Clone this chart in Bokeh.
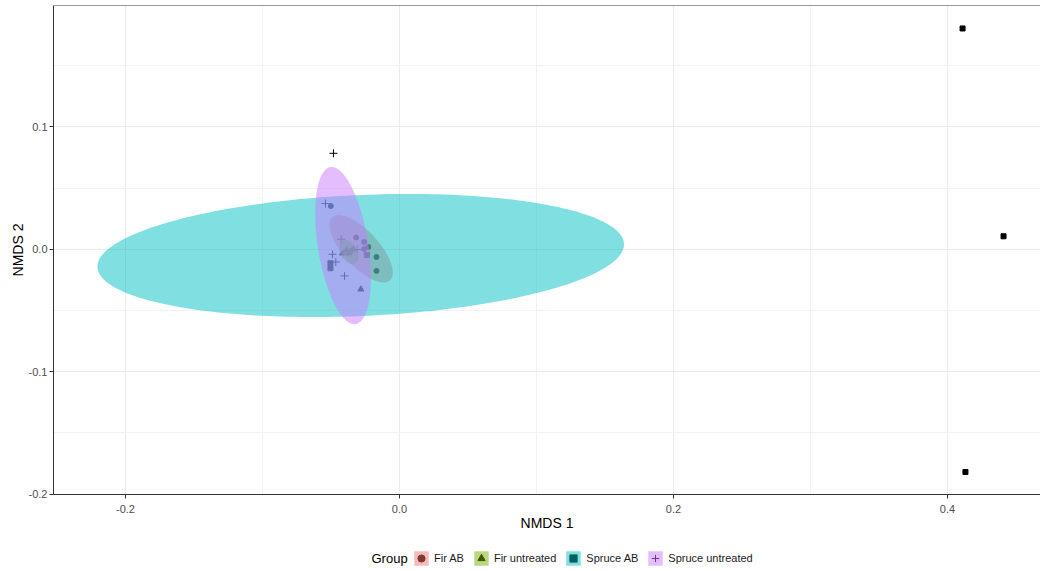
import numpy as np
from bokeh.plotting import figure
from bokeh.layouts import column
from bokeh.models import (Range1d, FixedTicker, NumeralTickFormatter, Legend,
                          LegendItem, Span, Label)
from bokeh.embed import file_html
from bokeh.resources import INLINE

# ---------------- data ----------------
groups = ["Fir AB", "Fir untreated", "Spruce AB", "Spruce untreated"]
legend_title = "Group"
colors = ["#F8766D", "#7CAE00", "#00BFC4", "#C77CFF"]
markers = ["circle", "triangle", "square", "cross"]
marker_sizes = [5, 6, 5, 8]

fir_ab_x = [-0.0501, -0.0316, -0.0258, -0.0228, -0.0258, -0.0168, -0.0168]
fir_ab_y = [0.0353, 0.0096, 0.0060, 0.0019, 0.0002, -0.0063, -0.0177]

fir_untr_x = [-0.0282, -0.0416, -0.0387, -0.0358, -0.0336, -0.0372]
fir_untr_y = [-0.0327, -0.0033, -0.0008, -0.0016, 0.0000, -0.0033]

spruce_ab_x = [0.4110, 0.4409, 0.4131, -0.0239, -0.0504, -0.0504]
spruce_ab_y = [0.1804, 0.0106, -0.1820, -0.0047, -0.0114, -0.0155]

spruce_untr_x = [-0.0482, -0.0540, -0.0426, -0.0489, -0.0465, -0.0401, -0.0309]
spruce_untr_y = [0.0784, 0.0373, 0.0082, -0.0041, -0.0104, -0.0218, -0.0002]

# 95% ellipses (centre, semi-axes, orientation in degrees) per group
ell_cx = [-0.0280, -0.0369, -0.0283, -0.0412]
ell_cy = [0.0004, -0.0024, -0.0051, 0.0030]
ell_a = [0.0333, 0.0105, 0.1924, 0.0648]
ell_b = [0.0135, 0.0062, 0.0494, 0.0184]
ell_angle = [128.0, 115.0, 2.9, 98.0]

x_ticks = [-0.2, 0.0, 0.2, 0.4]
x_minor = [-0.1, 0.1, 0.3]
y_ticks = [-0.2, -0.1, 0.0, 0.1]
y_minor = [-0.15, -0.05, 0.05, 0.15]

pts_x = [fir_ab_x, fir_untr_x, spruce_ab_x, spruce_untr_x]
pts_y = [fir_ab_y, fir_untr_y, spruce_ab_y, spruce_untr_y]

FONT = "Liberation Sans"
Y_TOP = 0.19918

# ---------------- main figure ----------------
p = figure(width=1040, height=540,
           x_range=Range1d(-0.25255, 0.46788),
           y_range=Range1d(-0.2004, Y_TOP),
           output_backend="svg", toolbar_location=None,
           min_border_left=53, min_border_right=0,
           min_border_top=5, min_border_bottom=46)
p.outline_line_color = None
p.background_fill_color = "white"
p.border_fill_color = "white"

p.xaxis.ticker = FixedTicker(ticks=x_ticks, minor_ticks=x_minor)
p.yaxis.ticker = FixedTicker(ticks=y_ticks, minor_ticks=y_minor)
for ax in (p.xaxis[0], p.yaxis[0]):
    ax.formatter = NumeralTickFormatter(format="0.0")
    ax.axis_line_color = "#333333"
    ax.axis_line_width = 1
    ax.major_tick_in = 0
    ax.major_tick_out = 4
    ax.major_tick_line_color = "#333333"
    ax.minor_tick_line_color = None
    ax.major_label_text_font = FONT
    ax.major_label_text_font_size = "11px"
    ax.major_label_text_color = "#4D4D4D"
    ax.axis_label_text_font = FONT
    ax.axis_label_text_font_size = "14px"
    ax.axis_label_text_font_style = "normal"
    ax.axis_label_text_color = "black"
p.xaxis.axis_label = "NMDS 1"
p.yaxis.axis_label = "NMDS 2"
p.xaxis.major_label_standoff = 6
p.xaxis.axis_label_standoff = -1
p.yaxis.major_label_standoff = 2
p.yaxis.axis_label_standoff = 0

for g in (p.xgrid[0], p.ygrid[0]):
    g.grid_line_color = "#EBEBEB"
    g.grid_line_width = 1
    g.minor_grid_line_color = "#F2F2F2"
    g.minor_grid_line_width = 1

p.add_layout(Span(location=Y_TOP, dimension="width",
                  line_color="#333333", line_width=1))

t = np.linspace(0, 2 * np.pi, 240)
ell_x, ell_y = [], []
for i in range(4):
    th = np.deg2rad(ell_angle[i])
    ell_x.append(ell_cx[i] + ell_a[i] * np.cos(th) * np.cos(t)
                 - ell_b[i] * np.sin(th) * np.sin(t))
    ell_y.append(ell_cy[i] + ell_a[i] * np.sin(th) * np.cos(t)
                 + ell_b[i] * np.cos(th) * np.sin(t))

# points first (black), ellipses on top with alpha so they tint the points
for i in range(4):
    p.scatter(pts_x[i], pts_y[i], marker=markers[i], size=marker_sizes[i],
              fill_color="black", line_color="black", line_width=1)
for i in range(4):
    p.patch(ell_x[i], ell_y[i], fill_color=colors[i], fill_alpha=0.5,
            line_color=None)

# ---------------- legend strip ----------------
lf = figure(width=1040, height=31, output_backend="svg", toolbar_location=None,
            x_range=Range1d(0, 1), y_range=Range1d(1, 2),
            x_axis_location=None, y_axis_location=None, min_border=0)
lf.outline_line_color = None
lf.grid.visible = False

items = []
for i in range(4):
    rs = lf.scatter(pts_x[i], pts_y[i], marker=markers[i], size=marker_sizes[i],
                    fill_color="black", line_color="black", line_width=1)
    rp = lf.patch(ell_x[i], ell_y[i], fill_color=colors[i], fill_alpha=0.5,
                  line_color=None)
    items.append(LegendItem(label=groups[i], renderers=[rs, rp]))

legend = Legend(items=items, orientation="horizontal", location=(359, 4),
                padding=0, margin=0, spacing=8, label_standoff=4,
                glyph_width=18, glyph_height=18,
                border_line_color=None, background_fill_alpha=0,
                label_text_font=FONT, label_text_font_size="11px",
                label_text_color="#1A1A1A")
lf.add_layout(legend)
lf.add_layout(Label(x=318, y=13, x_units="screen", y_units="screen",
                    text=legend_title, text_font=FONT, text_font_size="13px",
                    text_color="black", text_baseline="middle"))

page = column(p, lf, spacing=0)
open("out.html", "w").write(file_html(page, INLINE))
